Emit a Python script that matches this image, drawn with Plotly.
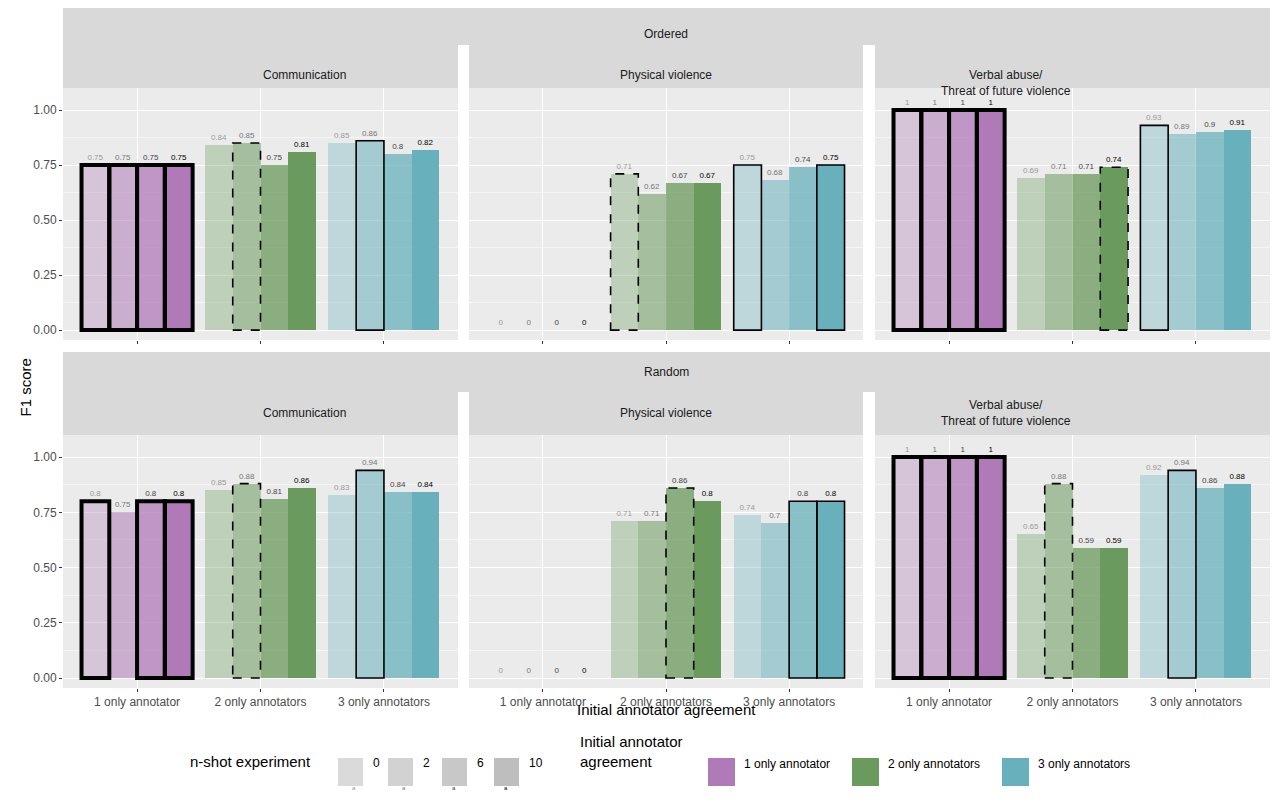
import plotly.graph_objects as go

W, H = 1280, 806
PAD = 8  # page body margin
FW, FH = W - 2 * PAD, H - 2 * PAD

orders = ["Ordered", "Random"]
categories = ["Communication", "Physical violence", "Verbal abuse/<br>Threat of future violence"]
groups = ["1 only annotator", "2 only annotators", "3 only annotators"]
shots = ["0", "2", "6", "10"]

# f1[order][category][group] -> values for n-shot 0, 2, 6, 10
ordered_comm = [[0.75, 0.75, 0.75, 0.75], [0.84, 0.85, 0.75, 0.81], [0.85, 0.86, 0.80, 0.82]]
ordered_phys = [[0, 0, 0, 0], [0.71, 0.62, 0.67, 0.67], [0.75, 0.68, 0.74, 0.75]]
ordered_verb = [[1, 1, 1, 1], [0.69, 0.71, 0.71, 0.74], [0.93, 0.89, 0.90, 0.91]]
random_comm = [[0.80, 0.75, 0.80, 0.80], [0.85, 0.88, 0.81, 0.86], [0.83, 0.94, 0.84, 0.84]]
random_phys = [[0, 0, 0, 0], [0.71, 0.71, 0.86, 0.80], [0.74, 0.70, 0.80, 0.80]]
random_verb = [[1, 1, 1, 1], [0.65, 0.88, 0.59, 0.59], [0.92, 0.94, 0.86, 0.88]]
f1 = [[ordered_comm, ordered_phys, ordered_verb], [random_comm, random_phys, random_verb]]

group_colors = ["#B07AB8", "#6B9A5E", "#68B1BC"]
shot_alpha = [0.35, 0.55, 0.75, 1.0]
label_colors = ["#9a9a9a", "#777777", "#444444", "#000000"]
outline_style = [dict(width=4, dash="solid"), dict(width=1.6, dash="dash"), dict(width=1.6, dash="solid")]

col_px = [(63, 458), (469, 863), (875, 1270)]
row_px = [dict(strip1=(5, 45), strip2=(45, 88), plot=(88, 340)),
          dict(strip1=(352, 392), strip2=(392, 435), plot=(435, 688))]

def px(x): return (x - PAD) / FW
def py(y): return 1 - (y - PAD) / FH

fig = go.Figure()
shapes, annots = [], []
bw = 0.225

for r in range(2):
    rp = row_px[r]
    shapes.append(dict(type="rect", xref="paper", yref="paper", x0=px(63), x1=px(1270),
                       y0=py(rp["strip1"][1]), y1=py(rp["strip1"][0]), fillcolor="#D9D9D9", line_width=0, layer="below"))
    annots.append(dict(text=orders[r], x=px(666), y=py(sum(rp["strip1"]) / 2), xref="paper", yref="paper",
                       showarrow=False, font=dict(size=12, color="#1a1a1a")))
    for c in range(3):
        idx = r * 3 + c + 1
        xa, ya = ("x" if idx == 1 else f"x{idx}"), ("y" if idx == 1 else f"y{idx}")
        x0p, x1p = col_px[c]
        shapes.append(dict(type="rect", xref="paper", yref="paper", x0=px(x0p), x1=px(x1p),
                           y0=py(rp["strip2"][1]), y1=py(rp["strip2"][0]), fillcolor="#D9D9D9", line_width=0, layer="below"))
        annots.append(dict(text=categories[c], x=px((x0p + x1p) / 2), y=py(sum(rp["strip2"]) / 2), xref="paper", yref="paper",
                           showarrow=False, font=dict(size=12, color="#1a1a1a")))
        for g in range(3):
            vals = f1[r][c][g]
            mx = max(vals)
            xs = [g + (k - 1.5) * bw for k in range(4)]
            fig.add_trace(go.Bar(
                x=xs, y=vals, width=bw, xaxis=xa, yaxis=ya, showlegend=False,
                marker=dict(color=group_colors[g], opacity=shot_alpha, line_width=0),
                text=[f"{v:g}" for v in vals], textposition="outside", cliponaxis=False,
                textfont=dict(size=8, color=label_colors), hoverinfo="y"))
            for k, v in enumerate(vals):
                if mx > 0 and v == mx:
                    st = outline_style[g]
                    shapes.append(dict(type="rect", xref=xa, yref=ya, x0=xs[k] - bw / 2, x1=xs[k] + bw / 2,
                                       y0=0, y1=v, line=dict(color="black", width=st["width"], dash=st["dash"])))
        axx = dict(domain=[px(x0p), px(x1p)], range=[-0.6, 2.6], tickvals=[0, 1, 2],
                   ticktext=groups if r == 1 else ["", "", ""], showgrid=True, gridcolor="white", gridwidth=1.2,
                   zeroline=False, ticks="outside", ticklen=3, tickcolor="#333", tickfont=dict(size=12, color="#4d4d4d"),
                   anchor=ya)
        axy = dict(domain=[py(rp["plot"][1]), py(rp["plot"][0])], range=[-0.045, 1.1],
                   tickvals=[0, 0.25, 0.5, 0.75, 1.0],
                   ticktext=["0.00", "0.25", "0.50", "0.75", "1.00"] if c == 0 else [""] * 5,
                   showgrid=True, gridcolor="white", gridwidth=1.2, zeroline=False,
                   ticks="outside" if c == 0 else "", ticklen=3, tickcolor="#333",
                   tickfont=dict(size=12, color="#4d4d4d"), anchor=xa,
                   minor=dict(tickvals=[0.125, 0.375, 0.625, 0.875], showgrid=True, gridcolor="#F5F5F5", gridwidth=0.6))
        fig.layout[f"xaxis{'' if idx == 1 else idx}"] = axx
        fig.layout[f"yaxis{'' if idx == 1 else idx}"] = axy
        shapes.append(dict(type="rect", xref="paper", yref="paper", x0=px(x0p), x1=px(x1p),
                           y0=py(rp["plot"][1]), y1=py(rp["plot"][0]), fillcolor="#EBEBEB", line_width=0, layer="below"))

# axis titles
annots.append(dict(text="F1 score", x=px(14), y=py(388), xref="paper", yref="paper", showarrow=False,
                   textangle=-90, font=dict(size=15, color="black")))
annots.append(dict(text="Initial annotator agreement", x=px(666), y=py(720), xref="paper", yref="paper",
                   showarrow=False, font=dict(size=15, color="black")))

# legend
ly0, ly1 = 758, 786
annots.append(dict(text="n-shot experiment", x=px(188), y=py(772), xref="paper", yref="paper", xanchor="left",
                   showarrow=False, font=dict(size=15, color="black")))
shot_x = [338, 388, 442, 494]
shot_fill = ["#DADADA", "#D2D2D2", "#C8C8C8", "#BEBEBE"]
for k, s in enumerate(shots):
    shapes.append(dict(type="rect", xref="paper", yref="paper", x0=px(shot_x[k]), x1=px(shot_x[k] + 25),
                       y0=py(ly1), y1=py(ly0), fillcolor=shot_fill[k], line_width=0))
    annots.append(dict(text=s, x=px(shot_x[k] + 33), y=py(772), xref="paper", yref="paper", xanchor="left",
                       showarrow=False, font=dict(size=12, color="black")))
    annots.append(dict(text="a", x=px(shot_x[k] + 12), y=py(793), xref="paper", yref="paper",
                       showarrow=False, font=dict(size=6, color=label_colors[k])))
annots.append(dict(text="Initial annotator<br>agreement", x=px(578), y=py(772), xref="paper", yref="paper",
                   xanchor="left", align="left", showarrow=False, font=dict(size=15, color="black")))
grp_x = [708, 852, 1002]
for g in range(3):
    shapes.append(dict(type="rect", xref="paper", yref="paper", x0=px(grp_x[g]), x1=px(grp_x[g] + 27),
                       y0=py(ly1), y1=py(ly0), fillcolor=group_colors[g], line_width=0))
    annots.append(dict(text=groups[g], x=px(grp_x[g] + 34), y=py(773), xref="paper", yref="paper",
                       xanchor="left", showarrow=False, font=dict(size=12, color="black")))

fig.update_layout(width=FW, height=FH, margin=dict(l=0, r=0, t=0, b=0), plot_bgcolor="rgba(0,0,0,0)",
                  paper_bgcolor="white", shapes=shapes, annotations=annots, barmode="overlay",
                  font=dict(family="Liberation Sans, Arial, sans-serif"), bargap=0)
fig.write_html("out.html")
